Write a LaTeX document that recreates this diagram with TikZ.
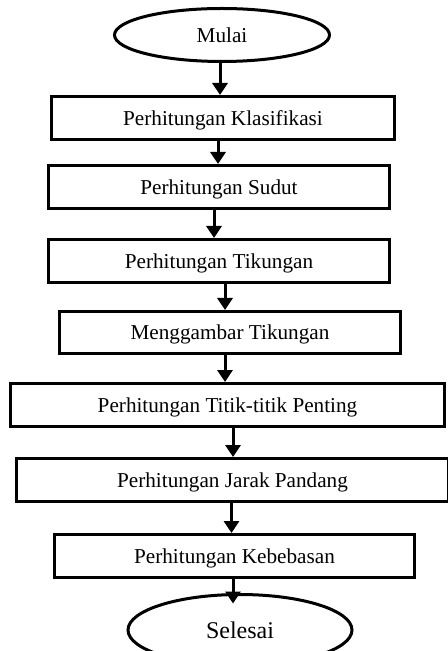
\documentclass[tikz,border=0pt]{standalone}
\usepackage{fontspec}
\setmainfont{Liberation Serif}
\usetikzlibrary{shapes.geometric,arrows.meta}

\begin{document}
\begin{tikzpicture}[x=0.5pt,y=-0.5pt,
  procbox/.style={draw,line width=1.5pt,inner sep=0pt,minimum height=21.5pt,
    text depth=0pt,font=\fontsize{10.6}{12}\selectfont},
  termbox/.style={draw,ellipse,line width=1.5pt,inner sep=0pt,text depth=0pt},
  flow/.style={line width=1.5pt,-{Triangle[length=6pt,width=7.5pt]}}]
\useasboundingbox (0,0) rectangle (448,651);
\node[termbox,minimum width=107.5pt,minimum height=26.5pt,
  font=\fontsize{10.6}{12}\selectfont] (mulai) at (222,35) {Mulai};
\node[procbox,minimum width=171.5pt] (klas) at (223,118) {Perhitungan Klasifikasi};
\node[procbox,minimum width=170.5pt] (sudut) at (219,187) {Perhitungan Sudut};
\node[procbox,minimum width=170.5pt] (tik) at (219,261) {Perhitungan Tikungan};
\node[procbox,minimum width=170.5pt,minimum height=21pt] (gambar) at (230,332.5) {Menggambar Tikungan};
\node[procbox,minimum width=217pt] (titik) at (227.5,405) {Perhitungan Titik-titik Penting};
\node[procbox,minimum width=216pt] (jarak) at (232.5,480) {Perhitungan Jarak Pandang};
\node[procbox,minimum width=180pt] (bebas) at (234.5,556) {Perhitungan Kebebasan};
\node[termbox,minimum width=112pt,minimum height=35.5pt,
  font=\fontsize{12}{14}\selectfont] (selesai) at (240,630) {Selesai};
% alur
\foreach \a/\b/\dx in {mulai/klas/-1pt,klas/sudut/-2.5pt,sudut/tik/-2.5pt,
    tik/gambar/3pt,gambar/titik/-2.5pt,titik/jarak/2.75pt,jarak/bebas/-0.5pt} {
  \draw[flow] ([xshift=\dx]\a.south) -- ([xshift=\dx]\a.south |- \b.north);
}
\draw[flow] ([xshift=-0.75pt]bebas.south) -- ([xshift=-0.75pt,yshift=-5.25pt]bebas.south |- selesai.north);
\end{tikzpicture}
\end{document}
